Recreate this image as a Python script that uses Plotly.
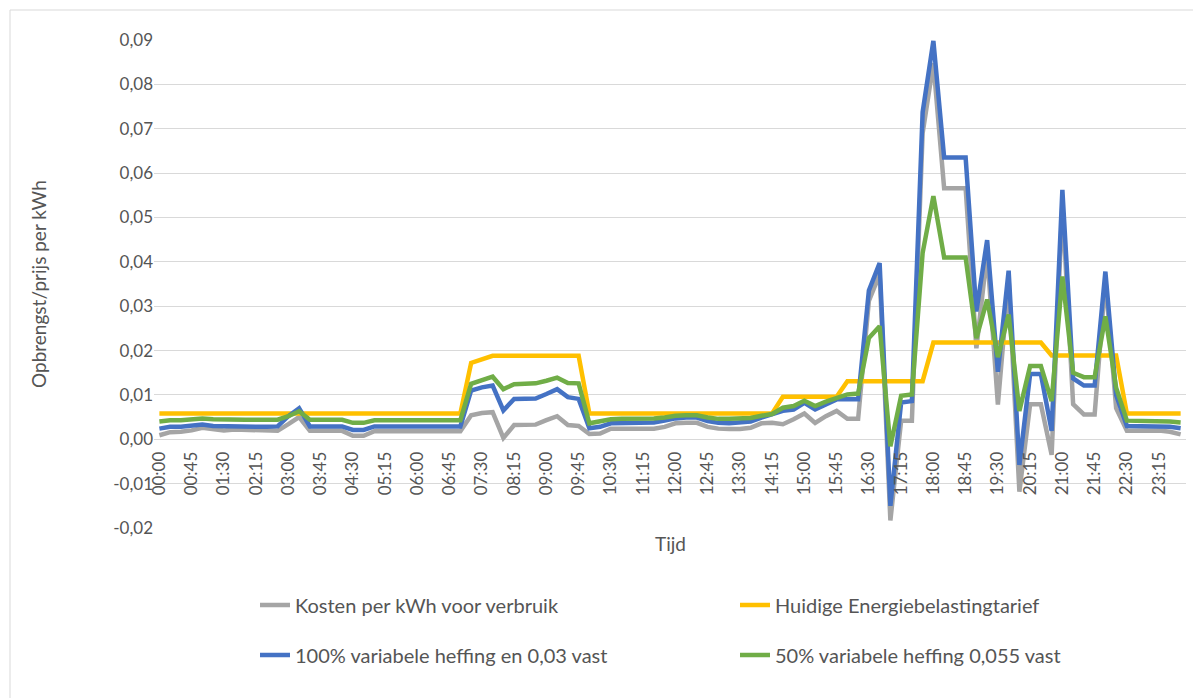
import plotly.graph_objects as go

# categories: 15-minute intervals of one day
times = [f"{h:02d}:{m:02d}" for h in range(24) for m in (0, 15, 30, 45)]
tick_labels = times[::3]

kosten = [
    0.0009, 0.0016, 0.0017, 0.0020, 0.0026, 0.0023, 0.0020, 0.0022, 0.0021, 0.0019, 0.0019, 0.0019,
    0.0034, 0.0050, 0.0019, 0.0019, 0.0019, 0.0019, 0.0008, 0.0008, 0.0018, 0.0018, 0.0018, 0.0018,
    0.0018, 0.0018, 0.0018, 0.0018, 0.0018, 0.0054, 0.0059, 0.0061, 0.0003, 0.0032, 0.0032, 0.0033,
    0.0043, 0.0052, 0.0032, 0.0030, 0.0012, 0.0013, 0.0024, 0.0024, 0.0023, 0.0023, 0.0024, 0.0028,
    0.0036, 0.0037, 0.0037, 0.0028, 0.0024, 0.0023, 0.0023, 0.0026, 0.0036, 0.0037, 0.0034, 0.0045,
    0.0058, 0.0037, 0.0052, 0.0064, 0.0046, 0.0046, 0.0312, 0.0372, -0.0183, 0.0042, 0.0042, 0.0690,
    0.0848, 0.0566, 0.0566, 0.0566, 0.0205, 0.0420, 0.0078, 0.0360, -0.0118, 0.0079, 0.0079, -0.0035,
    0.0530, 0.0079, 0.0056, 0.0056, 0.0360, 0.0070, 0.0019, 0.0019, 0.0019, 0.0020, 0.0017, 0.0011,
]

huidig = [
    0.0058, 0.0058, 0.0058, 0.0058, 0.0058, 0.0058, 0.0058, 0.0058, 0.0058, 0.0058, 0.0058, 0.0058,
    0.0058, 0.0058, 0.0058, 0.0058, 0.0058, 0.0058, 0.0058, 0.0058, 0.0058, 0.0058, 0.0058, 0.0058,
    0.0058, 0.0058, 0.0058, 0.0058, 0.0058, 0.0172, 0.0180, 0.0188, 0.0188, 0.0188, 0.0188, 0.0188,
    0.0188, 0.0188, 0.0188, 0.0188, 0.0058, 0.0058, 0.0058, 0.0058, 0.0058, 0.0058, 0.0058, 0.0058,
    0.0058, 0.0058, 0.0058, 0.0058, 0.0058, 0.0058, 0.0058, 0.0058, 0.0058, 0.0058, 0.0096, 0.0096,
    0.0096, 0.0096, 0.0096, 0.0096, 0.0131, 0.0131, 0.0131, 0.0131, 0.0131, 0.0131, 0.0131, 0.0131,
    0.0218, 0.0218, 0.0218, 0.0218, 0.0218, 0.0218, 0.0218, 0.0218, 0.0218, 0.0218, 0.0218, 0.0189,
    0.0189, 0.0189, 0.0189, 0.0189, 0.0189, 0.0189, 0.0058, 0.0058, 0.0058, 0.0058, 0.0058, 0.0058,
]

variabel100 = [
    0.0024, 0.0028, 0.0028, 0.0030, 0.0033, 0.0030, 0.0029, 0.0029, 0.0029, 0.0028, 0.0028, 0.0029,
    0.0052, 0.0070, 0.0029, 0.0029, 0.0029, 0.0029, 0.0021, 0.0021, 0.0029, 0.0029, 0.0029, 0.0029,
    0.0029, 0.0029, 0.0029, 0.0029, 0.0029, 0.0110, 0.0117, 0.0121, 0.0065, 0.0091, 0.0091, 0.0092,
    0.0102, 0.0113, 0.0095, 0.0091, 0.0025, 0.0028, 0.0036, 0.0037, 0.0037, 0.0037, 0.0038, 0.0042,
    0.0047, 0.0049, 0.0049, 0.0041, 0.0037, 0.0036, 0.0037, 0.0040, 0.0049, 0.0056, 0.0064, 0.0067,
    0.0082, 0.0067, 0.0079, 0.0090, 0.0090, 0.0090, 0.0335, 0.0397, -0.0150, 0.0083, 0.0086, 0.0737,
    0.0898, 0.0635, 0.0635, 0.0635, 0.0288, 0.0449, 0.0152, 0.0380, -0.0058, 0.0147, 0.0147, 0.0019,
    0.0562, 0.0137, 0.0121, 0.0121, 0.0378, 0.0100, 0.0030, 0.0030, 0.0030, 0.0030, 0.0028, 0.0025,
]

variabel50 = [
    0.0040, 0.0043, 0.0043, 0.0045, 0.0047, 0.0045, 0.0044, 0.0044, 0.0044, 0.0044, 0.0044, 0.0044,
    0.0052, 0.0063, 0.0044, 0.0044, 0.0044, 0.0044, 0.0037, 0.0037, 0.0043, 0.0043, 0.0043, 0.0043,
    0.0043, 0.0043, 0.0043, 0.0043, 0.0043, 0.0125, 0.0133, 0.0141, 0.0113, 0.0124, 0.0125, 0.0126,
    0.0132, 0.0139, 0.0127, 0.0126, 0.0036, 0.0040, 0.0045, 0.0046, 0.0046, 0.0046, 0.0047, 0.0049,
    0.0053, 0.0054, 0.0054, 0.0049, 0.0046, 0.0046, 0.0046, 0.0048, 0.0053, 0.0057, 0.0071, 0.0075,
    0.0087, 0.0075, 0.0085, 0.0094, 0.0101, 0.0103, 0.0228, 0.0255, -0.0016, 0.0098, 0.0101, 0.0420,
    0.0548, 0.0410, 0.0410, 0.0410, 0.0228, 0.0315, 0.0185, 0.0281, 0.0064, 0.0165, 0.0165, 0.0086,
    0.0367, 0.0150, 0.0140, 0.0140, 0.0277, 0.0116, 0.0042, 0.0042, 0.0042, 0.0042, 0.0040, 0.0038,
]

y_ticks = [-0.02, -0.01, 0.00, 0.01, 0.02, 0.03, 0.04, 0.05, 0.06, 0.07, 0.08, 0.09]
y_tick_text = ["-0,02", "-0,01", "0,00", "0,01", "0,02", "0,03", "0,04", "0,05", "0,06", "0,07", "0,08", "0,09"]

FONT = "Lato, 'Liberation Sans', sans-serif"
TXT = "#555555"

ymin, ymax = -0.02, 0.09
zero_pos = (0 - ymin) / (ymax - ymin)

# page has an 8px body margin: figure is sized/offset to compensate
PLOT_L, PLOT_R, PLOT_T, PLOT_B = 154, 1186, 40, 528   # plot area in page pixels
PW, PH = PLOT_R - PLOT_L, PLOT_B - PLOT_T


def px(xp):
    return (xp - PLOT_L) / PW


def py(yp):
    return (PLOT_B - yp) / PH


# (name, values, colour, legend id, legend text start x, legend row y) in page pixels
series = [
    ("Kosten per kWh voor verbruik", kosten, "#A5A5A5", "legend", 295, 605),
    ("Huidige Energiebelastingtarief", huidig, "#FFC000", "legend2", 775, 605),
    ("100% variabele heffing en 0,03 vast", variabel100, "#4472C4", "legend3", 295, 655),
    ("50% variabele heffing 0,055 vast", variabel50, "#70AD47", "legend4", 775, 655),
]

fig = go.Figure()
legends = {}
for name, vals, col, lg, lx, ly in series:
    fig.add_trace(go.Scatter(x=times, y=vals, mode="lines", name=name,
                             line=dict(color=col, width=4.5), legend=lg))
    legends[lg] = dict(orientation="v", x=px(lx - 40), y=py(ly), xanchor="left", yanchor="middle",
                       bgcolor="rgba(0,0,0,0)", borderwidth=0,
                       font=dict(size=20, family=FONT, color=TXT))

fig.update_layout(
    width=1193, height=690,
    margin=dict(l=PLOT_L - 8, r=1193 - (PLOT_R - 8), t=PLOT_T - 8, b=690 - (PLOT_B - 8)),
    paper_bgcolor="white", plot_bgcolor="white",
    font=dict(family=FONT, color=TXT, size=16),
    showlegend=True,
    xaxis=dict(type="category", range=[-0.5, 95.5], tickmode="array",
               tickvals=tick_labels, ticktext=tick_labels, tickangle=-90,
               showgrid=False, zeroline=False, showline=False, ticks="",
               anchor="free", position=zero_pos, ticklabelstandoff=8,
               tickfont=dict(size=17, family=FONT, color=TXT)),
    yaxis=dict(range=[ymin, ymax], tickmode="array", tickvals=y_ticks, ticktext=y_tick_text,
               showgrid=True, gridcolor="#D9D9D9", gridwidth=1, zeroline=False,
               showline=False, ticks="", tickfont=dict(size=17, family=FONT, color=TXT)),
    annotations=[
        dict(text="Opbrengst/prijs per kWh", xref="paper", yref="paper",
             x=px(38), y=0.5, textangle=-90, showarrow=False,
             xanchor="center", yanchor="middle", font=dict(size=19, family=FONT, color=TXT)),
        dict(text="Tijd", xref="paper", yref="paper", x=0.5, y=py(543),
             showarrow=False, xanchor="center", yanchor="middle",
             font=dict(size=19, family=FONT, color=TXT)),
    ],
    shapes=[
        dict(type="rect", xref="paper", yref="paper",
             x0=px(10), x1=px(1215), y0=py(715), y1=py(10),
             line=dict(color="#D9D9D9", width=1), fillcolor="rgba(0,0,0,0)", layer="below"),
    ],
)
fig.update_layout(**legends)

fig.write_html("out.html")
